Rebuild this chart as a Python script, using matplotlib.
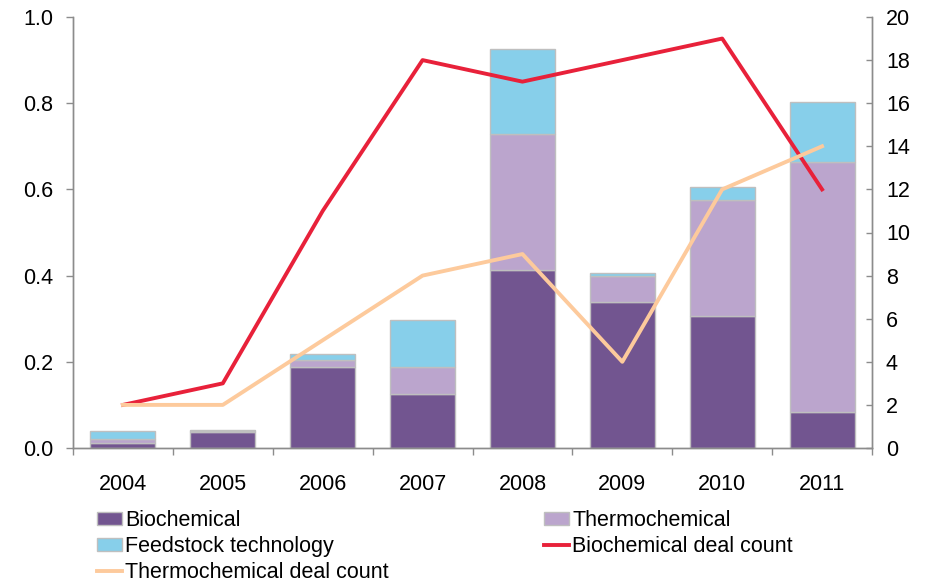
import numpy as np
import matplotlib.pyplot as plt
from matplotlib.patches import Patch
from matplotlib.lines import Line2D

plt.rcParams['font.family'] = ['Liberation Sans', 'DejaVu Sans']

years = ['2004', '2005', '2006', '2007', '2008', '2009', '2010', '2011']
biochemical = [0.012, 0.036, 0.187, 0.125, 0.412, 0.339, 0.307, 0.084]
thermochemical = [0.009, 0.004, 0.018, 0.063, 0.316, 0.061, 0.269, 0.579]
feedstock = [0.018, 0.002, 0.012, 0.109, 0.198, 0.005, 0.030, 0.139]
bio_deals = [2, 3, 11, 18, 17, 18, 19, 12]
thermo_deals = [2, 2, 5, 8, 9, 4, 12, 14]

c_bio = '#725590'
c_thermo = '#bba5cd'
c_feed = '#87cfea'
c_bio_line = '#e8213a'
c_thermo_line = '#fdca9c'
c_axis = '#8c8c8c'

fig = plt.figure(figsize=(9.27, 5.85), dpi=100)
ax = fig.add_axes([73/927, 1-448/585, (872-73)/927, (448-17)/585])
ax2 = ax.twinx()

x = np.arange(len(years))
w = 0.65
bio = np.array(biochemical)
thermo = np.array(thermochemical)
feed = np.array(feedstock)
kw = dict(width=w, edgecolor='#bfbfbf', linewidth=1.0, zorder=2)
ax.bar(x, bio, color=c_bio, **kw)
ax.bar(x, thermo, bottom=bio, color=c_thermo, **kw)
ax.bar(x, feed, bottom=bio+thermo, color=c_feed, **kw)

ax2.plot(x, bio_deals, color=c_bio_line, lw=2.8, zorder=3)
ax2.plot(x, thermo_deals, color=c_thermo_line, lw=2.8, zorder=3)

ax.set_xlim(-0.5, len(years)-0.5)
ax.set_ylim(0, 1.0)
ax2.set_ylim(0, 20)
ax.set_yticks(np.arange(0, 1.01, 0.2))
ax.set_yticklabels([f'{v:.1f}' for v in np.arange(0, 1.01, 0.2)])
ax2.set_yticks(range(0, 21, 2))

ax.set_xticks(x)
ax.set_xticklabels(years)
ax.set_xticks(np.arange(-0.5, len(years), 1), minor=True)
ax.tick_params(axis='x', which='major', length=0, pad=19, labelsize=15.5)
ax.tick_params(axis='x', which='minor', length=5, width=1, color=c_axis, direction='out')
ax.tick_params(axis='y', length=5, width=1, color=c_axis, direction='out', pad=9, labelsize=15.5)
ax2.tick_params(axis='y', length=4, width=1, color=c_axis, direction='in', pad=10, labelsize=15.5)

for a in (ax, ax2):
    a.spines['top'].set_visible(False)
    for s in ('left', 'right', 'bottom'):
        a.spines[s].set_color(c_axis)
        a.spines[s].set_linewidth(1)
ax.set_zorder(ax2.get_zorder() - 1)
ax2.patch.set_visible(False)

handles = [
    Patch(facecolor=c_bio, edgecolor='#bfbfbf'),
    Patch(facecolor=c_feed, edgecolor='#bfbfbf'),
    Line2D([], [], color=c_thermo_line, lw=2.8),
    Patch(facecolor=c_thermo, edgecolor='#bfbfbf'),
    Line2D([], [], color=c_bio_line, lw=2.8),
]
labels = ['Biochemical', 'Feedstock technology', 'Thermochemical deal count',
          'Thermochemical', 'Biochemical deal count']
fig.legend(handles, labels, ncol=2, loc='upper left', bbox_to_anchor=(97/927, 1-510/585),
           frameon=False, fontsize=15.5, borderpad=0, borderaxespad=0,
           handlelength=1.17, handleheight=0.6, handletextpad=0.15,
           labelspacing=0.24, columnspacing=7.2)

fig.savefig('out.png', dpi=100)
